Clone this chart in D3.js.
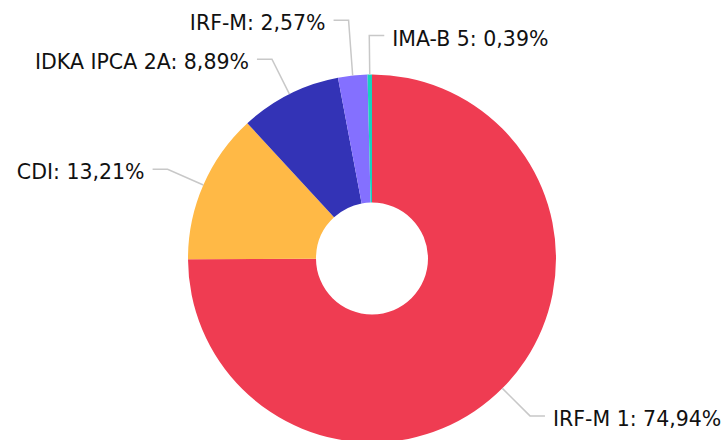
<!DOCTYPE html>
<html>
<head>
<meta charset="utf-8">
<script src="https://cdn.jsdelivr.net/npm/d3@7"></script>
<style>
  body { margin: 0; background: #fff; }
  svg { display: block; }
</style>
</head>
<body>
<script>
// categories and values (%)
var labels = ['IRF-M 1', 'CDI', 'IDKA IPCA 2A', 'IRF-M', 'IMA-B 5'];
var values = [74.94, 13.21, 8.89, 2.57, 0.39];
var colors = ['#ef3c52', '#ffb946', '#3333b6', '#8470ff', '#17d3bd'];

var width = 727, height = 440;
var cx = 372, cy = 258.5;
var outerR = 184, innerR = 56;
var len1 = 39, len2 = 15, gap = 8, minSpace = 39;

var fmt = function(v) { return v.toFixed(2).replace('.', ',') + '%'; };

var svg = d3.select('body').append('svg')
  .attr('width', width)
  .attr('height', height);

var pie = d3.pie().sort(null).value(function(d) { return d; });
var arcs = pie(values);

var arc = d3.arc().innerRadius(innerR).outerRadius(outerR);

var g = svg.append('g').attr('transform', 'translate(' + cx + ',' + cy + ')');

g.selectAll('path.slice')
  .data(arcs)
  .enter().append('path')
  .attr('class', 'slice')
  .attr('d', arc)
  .attr('fill', function(d, i) { return colors[i]; });

// label layout
var items = arcs.map(function(d, i) {
  var a = (d.startAngle + d.endAngle) / 2;
  var s = Math.sin(a), c = -Math.cos(a);
  var bx = s * (outerR + len1), by = c * (outerR + len1);
  return {
    i: i,
    x0: s * outerR, y0: c * outerR,
    bx: bx, by: by,
    side: bx > -5 ? 1 : -1
  };
});

// push labels apart on each side (upper ones move up)
[-1, 1].forEach(function(side) {
  var list = items.filter(function(d) { return d.side === side; })
    .sort(function(a, b) { return b.by - a.by; });
  for (var k = 1; k < list.length; k++) {
    if (list[k - 1].by - list[k].by < minSpace) {
      list[k].by = list[k - 1].by - minSpace;
    }
  }
});

var lab = g.selectAll('g.lab')
  .data(items)
  .enter().append('g')
  .attr('class', 'lab');

lab.append('polyline')
  .attr('points', function(d) {
    return [[d.x0, d.y0], [d.bx, d.by], [d.bx + d.side * len2, d.by]].join(' ');
  })
  .attr('fill', 'none')
  .attr('stroke', '#c8c8c8')
  .attr('stroke-width', 1.5);

lab.append('text')
  .attr('x', function(d) { return d.bx + d.side * (len2 + gap); })
  .attr('y', function(d) { return d.by + 10; })
  .attr('text-anchor', function(d) { return d.side > 0 ? 'start' : 'end'; })
  .attr('font-family', 'DejaVu Sans, Verdana, sans-serif')
  .attr('font-size', 20.5)
  .attr('fill', '#111')
  .text(function(d) { return labels[d.i] + ': ' + fmt(values[d.i]); });
</script>
</body>
</html>
